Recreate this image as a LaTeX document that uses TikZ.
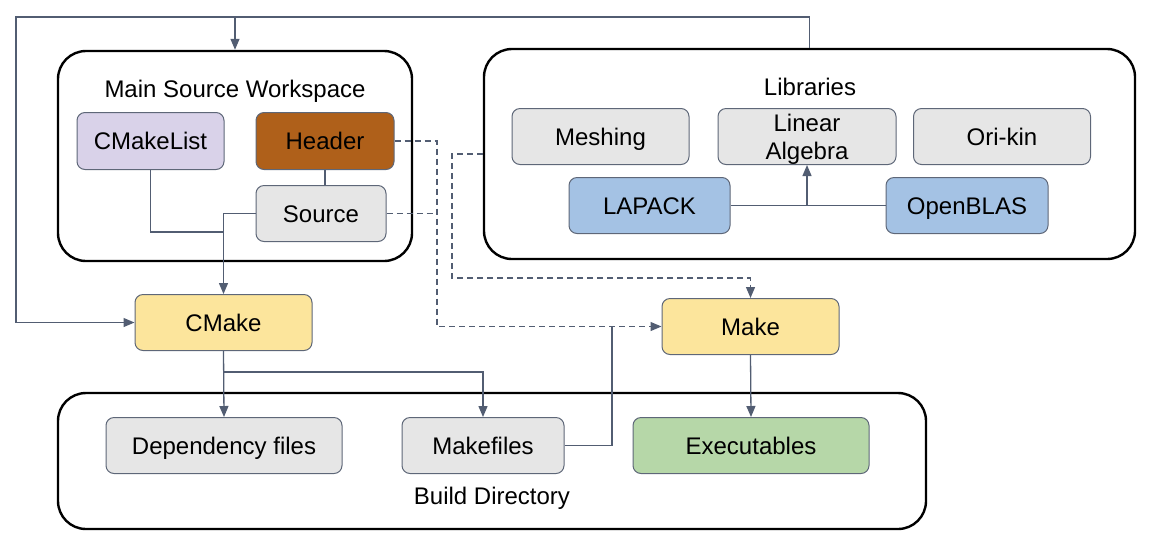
\documentclass[tikz,border=0pt]{standalone}
\usepackage{fontspec}
\setmainfont{Liberation Sans}
\usetikzlibrary{arrows.meta}
\definecolor{lnc}{HTML}{525D72}
\definecolor{bdc}{HTML}{5E6778}
\definecolor{greyf}{HTML}{E6E6E6}
\definecolor{lavf}{HTML}{D9D2E9}
\definecolor{brownf}{HTML}{AF601A}
\definecolor{bluef}{HTML}{A4C2E4}
\definecolor{yellf}{HTML}{FCE59C}
\definecolor{greenf}{HTML}{B6D7A8}
\tikzset{
  box/.style={draw=bdc, line width=1pt, rounded corners=8pt, inner sep=0pt, align=center,
    font=\fontsize{24}{28}\selectfont},
  oneline/.style={text height=22pt, text depth=5pt},
  cont/.style={draw=black, line width=2.4pt, rounded corners=28pt, inner sep=0pt},
  ttl/.style={font=\fontsize{24}{28}\selectfont, inner sep=0pt, text height=22pt, text depth=5pt},
  conn/.style={draw=lnc, line width=1.3pt},
  dconn/.style={draw=lnc, line width=1.3pt, dash pattern=on 6pt off 4pt},
  tip/.style={-{Triangle[length=11pt,width=9pt]}},
}
\begin{document}
\begin{tikzpicture}[x=1pt,y=-1pt]
\useasboundingbox (0,0) rectangle (1150,550);
% containers
\node[cont, minimum width=354pt, minimum height=210pt] (msw) at (235,156) {};
\node[ttl] (mswt) at (235,89) {Main Source Workspace};
\node[cont, minimum width=651pt, minimum height=210pt] (lib) at (809.5,154) {};
\node[ttl] (libt) at (810,87) {Libraries};
\node[cont, minimum width=868pt, minimum height=136pt] (bld) at (492,461) {};
\node[ttl] (bldt) at (492,496) {Build Directory};
% nodes
\node[box, oneline, fill=lavf, minimum width=147pt, minimum height=57pt] (cml) at (150.5,141) {CMakeList};
\node[box, oneline, fill=brownf, minimum width=138pt, minimum height=57pt] (hdr) at (325,141) {Header};
\node[box, oneline, fill=greyf, minimum width=130pt, minimum height=56pt] (src) at (321,213.5) {Source};
\node[box, oneline, fill=greyf, minimum width=177pt, minimum height=56pt] (mesh) at (600.5,136.5) {Meshing};
\node[box, fill=greyf, minimum width=178pt, minimum height=56pt] (linalg) at (807,136.5) {};
\node[font=\fontsize{24}{28}\selectfont, align=center, inner sep=0pt] (linalgt) at (807,139.5) {Linear\\Algebra};
\node[box, oneline, fill=greyf, minimum width=177pt, minimum height=56pt] (ori) at (1002,136.5) {Ori-kin};
\node[box, oneline, fill=bluef, minimum width=161pt, minimum height=56pt] (lapack) at (649.5,205.5) {LAPACK};
\node[box, oneline, fill=bluef, minimum width=162pt, minimum height=56pt] (oblas) at (967,205.5) {OpenBLAS};
\node[box, oneline, fill=yellf, minimum width=177pt, minimum height=56pt] (cmake) at (223.5,322.5) {CMake};
\node[box, oneline, fill=yellf, minimum width=177pt, minimum height=56pt] (make) at (750.5,326.5) {Make};
\node[box, oneline, fill=greyf, minimum width=236pt, minimum height=56pt] (dep) at (224,445.5) {Dependency files};
\node[box, oneline, fill=greyf, minimum width=162pt, minimum height=56pt] (mkf) at (483,445.5) {Makefiles};
\node[box, oneline, fill=greenf, minimum width=236pt, minimum height=56pt] (exe) at (751,445.5) {Executables};
% coordinates
\coordinate (tl) at (16,17);
\coordinate (d1) at (437,0);
\coordinate (d2) at (452,278);
\coordinate (br) at (0,372);
\coordinate (jn) at (0,232);
\coordinate (m1) at (612,0);
% connectors
\draw[conn, tip] (lib.north) |- (tl) |- (cmake.west);
\draw[conn, tip] (msw.north |- tl) -- (msw.north);
\draw[conn] (hdr.south) -- (hdr.south |- src.north);
\draw[conn, tip] (src.west) -| (cmake.north);
\draw[conn] (cml.south) |- (cmake.north |- jn);
\draw[dconn, tip] (hdr.east) -| (d1 |- make.west) -- (make.west);
\draw[dconn] (src.east) -- (d1 |- src.east);
\draw[dconn, tip] (lib.west) -| (d2) -| (make.north);
\draw[conn] (lapack.east) -- (oblas.west);
\draw[conn, tip] (linalg.south |- lapack.east) -- (linalg.south);
\draw[conn, tip] (cmake.south) -- (dep.north);
\draw[conn, tip] (cmake.south |- br) -| (mkf.north);
\draw[conn] (mkf.east) -| (m1 |- make.west);
\draw[conn, tip] (make.south) -- (exe.north);
\end{tikzpicture}
\end{document}
